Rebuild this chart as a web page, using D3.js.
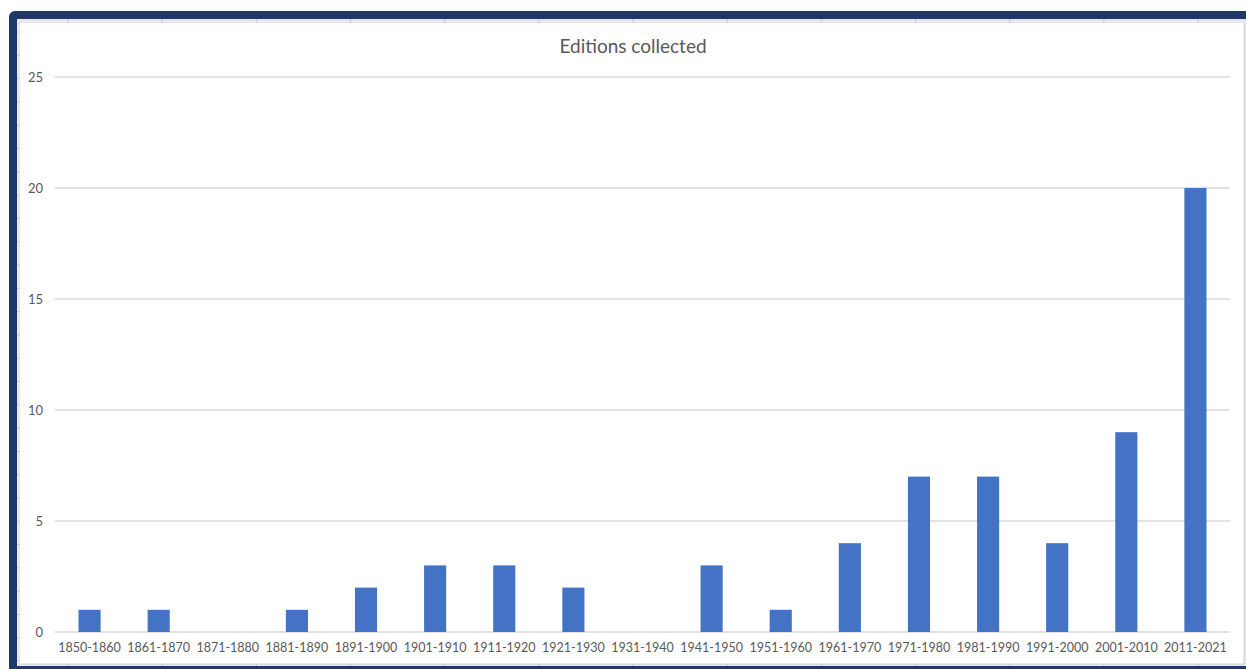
<!DOCTYPE html>
<meta charset="utf-8" />
<script src="https://d3js.org/d3.v7.min.js"></script>
<style>
  body { margin: 0; background: #fff; }
  text { font-family: Lato, "Open Sans", sans-serif; }
</style>
<body>
<div id="chart"></div>
<script>
// data
var decades = ["1850-1860","1861-1870","1871-1880","1881-1890","1891-1900","1901-1910",
  "1911-1920","1921-1930","1931-1940","1941-1950","1951-1960","1961-1970",
  "1971-1980","1981-1990","1991-2000","2001-2010","2011-2021"];
var editions = [1,1,0,1,2,3,3,2,0,3,1,4,7,7,4,9,20];
var yTicks = [0,5,10,15,20,25];

var width = 1246, height = 669;
var svg = d3.select("#chart").append("svg")
  .attr("width", width).attr("height", height);

// dark frame of the window around the sheet
svg.append("rect").attr("x", 9).attr("y", 11).attr("width", width).attr("height", height)
  .attr("rx", 6).attr("fill", "#1f3864");
svg.append("rect").attr("x", 17).attr("y", 19).attr("width", width - 17).attr("height", 647)
  .attr("fill", "#e8e8e8");
svg.append("rect").attr("x", 20).attr("y", 23).attr("width", 1224).attr("height", 641)
  .attr("fill", "#fff");

// spreadsheet cell lines peeking out around the chart
var colLines = d3.range(68, width, 94.17);
svg.append("g").selectAll("line").data(colLines).enter().append("line")
  .attr("x1", d => d).attr("x2", d => d).attr("y1", 19).attr("y2", 23)
  .attr("stroke", "#c8c8c8");
svg.append("g").selectAll("line").data(colLines).enter().append("line")
  .attr("x1", d => d).attr("x2", d => d).attr("y1", 664).attr("y2", 666)
  .attr("stroke", "#c8c8c8");
var rowLines = d3.range(32, 664, 23.3);
svg.append("g").selectAll("line").data(rowLines).enter().append("line")
  .attr("x1", 17).attr("x2", 20).attr("y1", d => d).attr("y2", d => d)
  .attr("stroke", "#c8c8c8");
svg.append("line").attr("x1", 1244).attr("x2", 1244).attr("y1", 23).attr("y2", 664)
  .attr("stroke", "#d0d0d0");
svg.append("line").attr("x1", 20).attr("x2", 1244).attr("y1", 664).attr("y2", 664)
  .attr("stroke", "#d0d0d0");

// scales
var x = d3.scaleBand().domain(decades).range([55, 1230])
  .paddingInner(0.68).paddingOuter(0.34);
var y = d3.scaleLinear().domain([0, 25]).range([632, 77]);

// gridlines
svg.append("g").selectAll("line").data(yTicks).enter().append("line")
  .attr("x1", 55).attr("x2", 1230)
  .attr("y1", d => y(d)).attr("y2", d => y(d))
  .attr("stroke", "#d9d9d9").attr("stroke-width", 1.3);

// y labels
svg.append("g").selectAll("text").data(yTicks).enter().append("text")
  .attr("x", 43).attr("y", d => y(d)).attr("dy", "0.35em")
  .attr("text-anchor", "end").attr("font-size", 13).attr("fill", "#595959")
  .text(d => d);

// bars
svg.append("g").selectAll("rect").data(decades).enter().append("rect")
  .attr("x", d => x(d))
  .attr("width", x.bandwidth())
  .attr("y", (d, i) => y(editions[i]))
  .attr("height", (d, i) => y(0) - y(editions[i]))
  .attr("fill", "#4472c4");

// x labels
svg.append("g").selectAll("text").data(decades).enter().append("text")
  .attr("x", d => x(d) + x.bandwidth() / 2).attr("y", 652)
  .attr("text-anchor", "middle").attr("font-size", 12.5).attr("fill", "#595959")
  .text(d => d);

// title
svg.append("text").attr("x", 633).attr("y", 53)
  .attr("text-anchor", "middle").attr("font-size", 19).attr("fill", "#595959")
  .text("Editions collected");
</script>
</body>
